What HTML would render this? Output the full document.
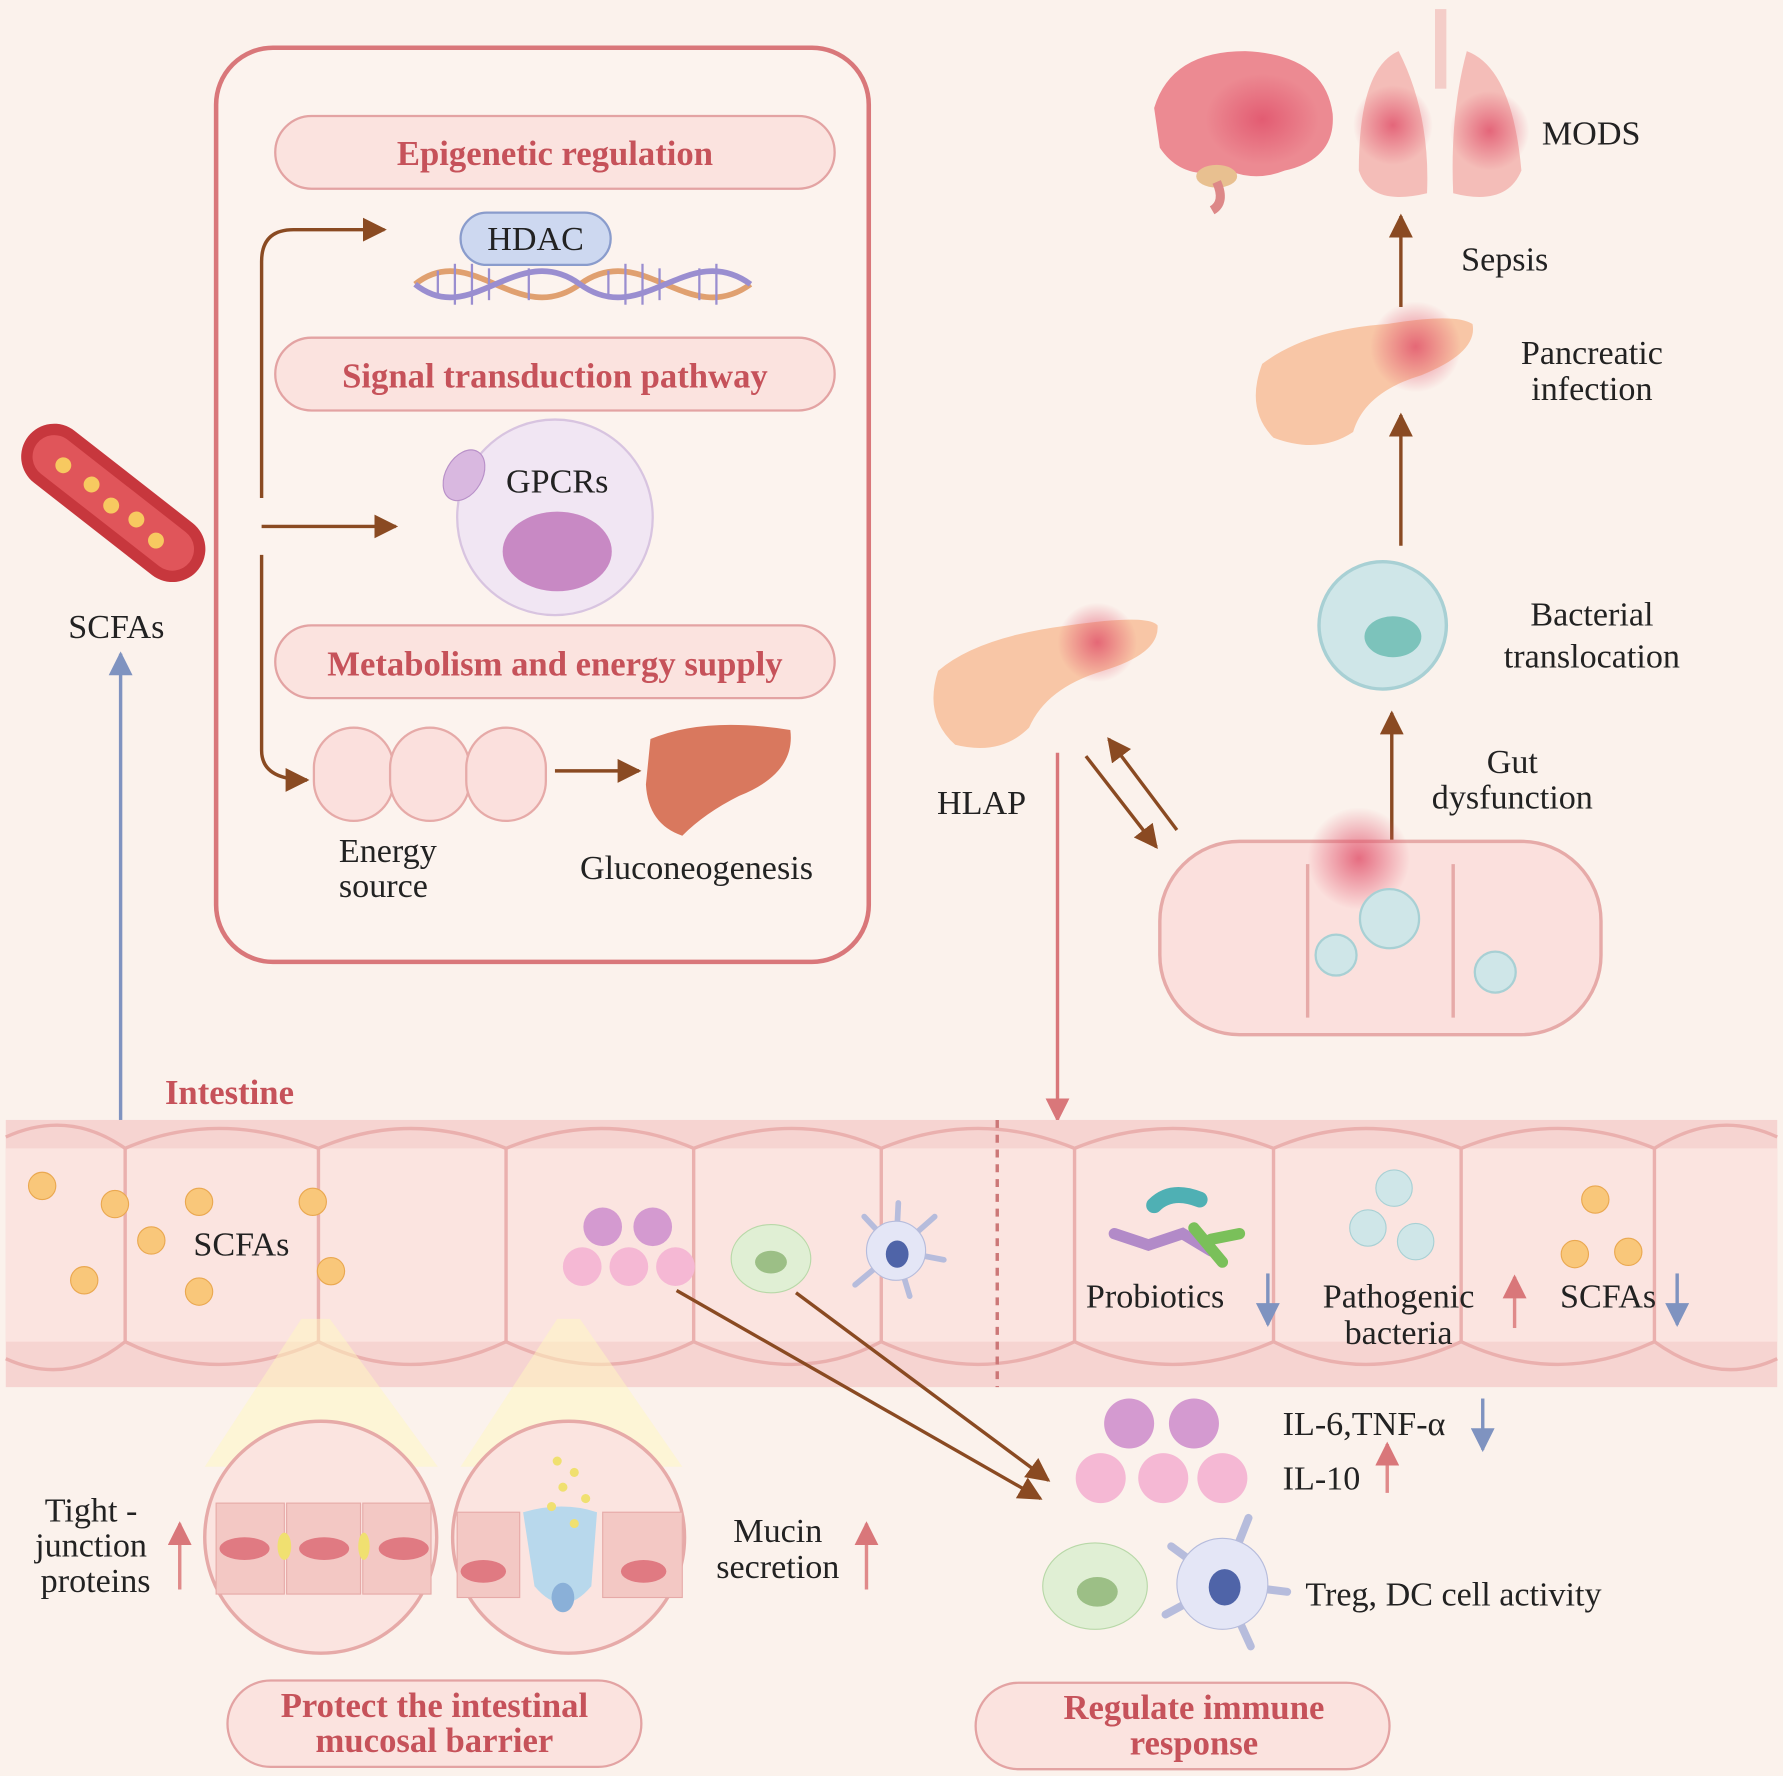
<!DOCTYPE html>
<html><head><meta charset="utf-8"><style>
html,body{margin:0;padding:0;background:#fbf2ec;}
svg{display:block}
text{font-family:"Liberation Serif",serif;}
.t{font-size:30px;fill:#222;}
.p{font-size:30.5px;fill:#c6525a;font-weight:bold;}
</style></head><body>
<svg width="1783" height="1776" viewBox="0 0 1568 1562" xmlns="http://www.w3.org/2000/svg">
<defs>
<marker id="ab" viewBox="0 0 10 10" refX="9" refY="5" markerWidth="7" markerHeight="7" orient="auto"><path d="M0,0L10,5L0,10z" fill="#8a4a22"/></marker>
<marker id="ap" viewBox="0 0 10 10" refX="9" refY="5" markerWidth="7" markerHeight="7" orient="auto"><path d="M0,0L10,5L0,10z" fill="#d9777a"/></marker>
<marker id="abl" viewBox="0 0 10 10" refX="9" refY="5" markerWidth="7" markerHeight="7" orient="auto"><path d="M0,0L10,5L0,10z" fill="#7f93c0"/></marker>
<radialGradient id="red"><stop offset="0" stop-color="#e0506a" stop-opacity=".8"/><stop offset="1" stop-color="#e0506a" stop-opacity="0"/></radialGradient>
</defs>
<rect width="1568" height="1562" fill="#fbf2ec"/>
<rect x="190" y="42" width="574" height="804" rx="50" fill="#fcf3ee" stroke="#d9777a" stroke-width="4"/>
<g>
<rect x="242" y="102" width="492" height="64" rx="32" fill="#fbe3df" stroke="#e3a3a3" stroke-width="2"/>
<text x="488" y="145" text-anchor="middle" class="p">Epigenetic regulation</text>
<rect x="242" y="297" width="492" height="64" rx="32" fill="#fbe3df" stroke="#e3a3a3" stroke-width="2"/>
<text x="488" y="341" text-anchor="middle" class="p">Signal transduction pathway</text>
<rect x="242" y="550" width="492" height="64" rx="32" fill="#fbe3df" stroke="#e3a3a3" stroke-width="2"/>
<text x="488" y="594" text-anchor="middle" class="p">Metabolism and energy supply</text>
</g>
<g fill="none" stroke-width="5">
<path d="M365,250 C415,210 455,290 510,250 C565,210 605,290 660,250" stroke="#e0a070"/>
<path d="M365,250 C415,290 455,210 510,250 C565,290 605,210 660,250" stroke="#9a8ed0"/>
</g>
<g stroke="#9a8ed0" stroke-width="2">
<line x1="385" y1="238" x2="385" y2="262"/><line x1="400" y1="232" x2="400" y2="268"/><line x1="415" y1="232" x2="415" y2="268"/><line x1="430" y1="236" x2="430" y2="264"/>
<line x1="535" y1="238" x2="535" y2="262"/><line x1="550" y1="232" x2="550" y2="268"/><line x1="565" y1="232" x2="565" y2="268"/><line x1="580" y1="236" x2="580" y2="264"/>
<line x1="465" y1="236" x2="465" y2="264"/><line x1="615" y1="236" x2="615" y2="264"/><line x1="630" y1="232" x2="630" y2="268"/>
</g>
<rect x="405" y="187" width="132" height="46" rx="23" fill="#cdd8f0" stroke="#8a9ccc" stroke-width="2"/>
<text x="471" y="220" text-anchor="middle" class="t">HDAC</text>
<circle cx="488" cy="455" r="86" fill="#f1e6f3" stroke="#d8c4e0" stroke-width="2"/>
<ellipse cx="490" cy="485" rx="48" ry="35" fill="#c889c4"/>
<ellipse cx="408" cy="418" rx="16" ry="24" transform="rotate(30 408 418)" fill="#d9b8e0" stroke="#b890c8"/>
<text x="490" y="433" text-anchor="middle" class="t">GPCRs</text>
<g fill="none" stroke="#8a4a22" stroke-width="3">
<path d="M230,438 V230 Q230,202 258,202 H338" marker-end="url(#ab)"/>
<path d="M230,463 H348" marker-end="url(#ab)"/>
<path d="M230,488 V660 Q230,686 270,686" marker-end="url(#ab)"/>
<path d="M488,678 H562" marker-end="url(#ab)"/>
</g>
<g fill="#fbe0dd" stroke="#e6aaa8" stroke-width="2">
<rect x="276" y="640" width="70" height="82" rx="35"/>
<rect x="343" y="640" width="70" height="82" rx="35"/>
<rect x="410" y="640" width="70" height="82" rx="35"/>
</g>
<text x="298" y="758" class="t">Energy</text><text x="298" y="789" class="t">source</text>
<path d="M572,650 Q620,630 695,642 Q700,680 650,700 Q620,715 600,735 Q570,725 568,690z" fill="#d9785e"/>
<text x="510" y="773" class="t">Gluconeogenesis</text>
<g transform="rotate(38 95 440)">
<rect x="5" y="410" width="190" height="58" rx="29" fill="#c7373d"/>
<rect x="15" y="420" width="170" height="38" rx="19" fill="#e0555a"/>
<circle cx="45" cy="440" r="7" fill="#f7c960"/><circle cx="75" cy="438" r="7" fill="#f7c960"/><circle cx="100" cy="442" r="7" fill="#f7c960"/><circle cx="125" cy="438" r="7" fill="#f7c960"/><circle cx="150" cy="442" r="7" fill="#f7c960"/>
</g>
<text x="60" y="561" class="t">SCFAs</text>
<line x1="106" y1="1055" x2="106" y2="575" stroke="#7f93c0" stroke-width="3" marker-end="url(#abl)"/>
<path d="M1015,95 Q1030,45 1095,45 Q1165,48 1172,100 Q1175,140 1130,150 Q1105,160 1080,150 Q1040,160 1020,130z" fill="#ec8a92"/>
<ellipse cx="1110" cy="105" rx="50" ry="40" fill="url(#red)"/>
<ellipse cx="1070" cy="155" rx="18" ry="10" fill="#e8c090"/>
<path d="M1070,160 Q1078,178 1066,185" stroke="#d88" stroke-width="8" fill="none"/>
<path d="M1230,45 Q1195,60 1195,150 Q1205,182 1255,170 Q1258,100 1230,45z" fill="#f4bdb8"/>
<path d="M1290,45 Q1330,60 1338,150 Q1325,182 1278,170 Q1275,100 1290,45z" fill="#f4bdb8"/>
<rect x="1262" y="8" width="10" height="70" fill="#f4cdc8"/>
<circle cx="1225" cy="110" r="35" fill="url(#red)"/><circle cx="1310" cy="115" r="35" fill="url(#red)"/>
<text x="1356" y="127" class="t">MODS</text>
<line x1="1232" y1="270" x2="1232" y2="190" stroke="#8a4a22" stroke-width="3" marker-end="url(#ab)"/>
<text x="1285" y="238" class="t">Sepsis</text>
<path d="M1110,320 Q1150,290 1220,285 Q1280,275 1295,285 Q1300,310 1250,330 Q1200,345 1190,380 Q1160,400 1120,385 Q1095,360 1110,320z" fill="#f8c6a6"/>
<circle cx="1245" cy="305" r="40" fill="url(#red)"/>
<text x="1400" y="320" text-anchor="middle" class="t">Pancreatic</text><text x="1400" y="352" text-anchor="middle" class="t">infection</text>
<line x1="1232" y1="480" x2="1232" y2="365" stroke="#8a4a22" stroke-width="3" marker-end="url(#ab)"/>
<circle cx="1216" cy="550" r="56" fill="#cfe6e8" stroke="#a8d0d4" stroke-width="3"/>
<ellipse cx="1225" cy="560" rx="25" ry="18" fill="#7cc3bb"/>
<text x="1400" y="550" text-anchor="middle" class="t">Bacterial</text><text x="1400" y="587" text-anchor="middle" class="t">translocation</text>
<line x1="1224" y1="785" x2="1224" y2="627" stroke="#8a4a22" stroke-width="3" marker-end="url(#ab)"/>
<text x="1330" y="680" text-anchor="middle" class="t">Gut</text><text x="1330" y="711" text-anchor="middle" class="t">dysfunction</text>
<g fill="#fbe0dd" stroke="#e6aaa8" stroke-width="3">
<rect x="1020" y="740" width="388" height="170" rx="70"/>
<line x1="1150" y1="760" x2="1150" y2="895"/><line x1="1278" y1="760" x2="1278" y2="895"/>
</g>
<circle cx="1195" cy="755" r="45" fill="url(#red)"/>
<circle cx="1222" cy="808" r="26" fill="#cfe6e8" stroke="#a8d0d4" stroke-width="2"/>
<circle cx="1175" cy="840" r="18" fill="#cfe6e8" stroke="#a8d0d4" stroke-width="2"/>
<circle cx="1315" cy="855" r="18" fill="#cfe6e8" stroke="#a8d0d4" stroke-width="2"/>
<path d="M825,590 Q860,560 940,550 Q1010,540 1018,550 Q1020,575 970,590 Q920,605 905,640 Q880,665 840,655 Q812,630 825,590z" fill="#f8c6a6"/>
<circle cx="965" cy="565" r="35" fill="url(#red)"/>
<text x="824" y="716" class="t">HLAP</text>
<line x1="955" y1="665" x2="1017" y2="745" stroke="#8a4a22" stroke-width="3" marker-end="url(#ab)"/>
<line x1="1035" y1="730" x2="975" y2="650" stroke="#8a4a22" stroke-width="3" marker-end="url(#ab)"/>
<line x1="930" y1="662" x2="930" y2="985" stroke="#d9777a" stroke-width="3" marker-end="url(#ap)"/>
<text x="145" y="971" class="p">Intestine</text>
<rect x="5" y="985" width="1558" height="235" fill="#f6d4d1"/>
<rect x="5" y="1010" width="1558" height="170" fill="#fbe4e0"/>
<g stroke="#eab0ae" stroke-width="3" fill="none">
<path d="M5,1000 Q60,975 110,1010 Q190,975 280,1010 Q360,975 445,1010 Q530,975 610,1010 Q700,975 775,1010 Q860,975 945,1010 Q1030,975 1120,1010 Q1200,975 1285,1010 Q1370,975 1455,1010 Q1510,975 1563,1000"/>
<path d="M5,1195 Q60,1220 110,1180 Q190,1220 280,1180 Q360,1220 445,1180 Q530,1220 610,1180 Q700,1220 775,1180 Q860,1220 945,1180 Q1030,1220 1120,1180 Q1200,1220 1285,1180 Q1370,1220 1455,1180 Q1510,1220 1563,1195"/>
<line x1="110" y1="1010" x2="110" y2="1180"/><line x1="280" y1="1010" x2="280" y2="1180"/><line x1="445" y1="1010" x2="445" y2="1180"/><line x1="610" y1="1010" x2="610" y2="1180"/><line x1="775" y1="1010" x2="775" y2="1180"/><line x1="945" y1="1010" x2="945" y2="1180"/><line x1="1120" y1="1010" x2="1120" y2="1180"/><line x1="1285" y1="1010" x2="1285" y2="1180"/><line x1="1455" y1="1010" x2="1455" y2="1180"/>
</g>
<line x1="877" y1="985" x2="877" y2="1220" stroke="#c77" stroke-width="3" stroke-dasharray="7,6"/>
<g fill="#f9c77a" stroke="#eaa850">
<circle cx="37" cy="1043" r="12"/><circle cx="101" cy="1059" r="12"/><circle cx="133" cy="1091" r="12"/><circle cx="74" cy="1126" r="12"/><circle cx="175" cy="1057" r="12"/><circle cx="175" cy="1136" r="12"/><circle cx="275" cy="1057" r="12"/><circle cx="291" cy="1118" r="12"/>
<circle cx="1403" cy="1055" r="12"/><circle cx="1385" cy="1103" r="12"/><circle cx="1432" cy="1101" r="12"/>
</g>
<text x="170" y="1104" class="t">SCFAs</text>
<g><circle cx="530" cy="1079" r="17" fill="#d49ad0"/><circle cx="574" cy="1079" r="17" fill="#d49ad0"/><circle cx="512" cy="1114" r="17" fill="#f5b8d4"/><circle cx="553" cy="1114" r="17" fill="#f5b8d4"/><circle cx="594" cy="1114" r="17" fill="#f5b8d4"/></g>
<ellipse cx="678" cy="1107" rx="35" ry="30" fill="#e0efd4" stroke="#b8d8a8"/><ellipse cx="678" cy="1110" rx="14" ry="10" fill="#9cbf86"/>
<g stroke="#b6bcdc" stroke-width="5" stroke-linecap="round"><line x1="788" y1="1100" x2="760" y2="1070"/><line x1="788" y1="1100" x2="822" y2="1070"/><line x1="788" y1="1100" x2="830" y2="1108"/><line x1="788" y1="1100" x2="800" y2="1140"/><line x1="788" y1="1100" x2="752" y2="1130"/><line x1="788" y1="1100" x2="790" y2="1058"/></g>
<circle cx="788" cy="1100" r="26" fill="#e4e6f6" stroke="#b6bcdc"/><ellipse cx="789" cy="1103" rx="10" ry="12" fill="#4f64a8"/>
<path d="M980,1085 L1010,1095 L1040,1085 L1065,1100" stroke="#b28ac8" stroke-width="10" fill="none" stroke-linecap="round"/>
<path d="M1015,1060 Q1030,1045 1055,1055" stroke="#4fb0b4" stroke-width="14" fill="none" stroke-linecap="round"/>
<path d="M1050,1080 L1075,1110 M1065,1090 L1090,1085" stroke="#7ac05a" stroke-width="10" fill="none" stroke-linecap="round"/>
<text x="955" y="1150" class="t">Probiotics</text>
<line x1="1115" y1="1120" x2="1115" y2="1165" stroke="#7f93c0" stroke-width="3" marker-end="url(#abl)"/>
<circle cx="1226" cy="1045" r="16" fill="#cfe6e8" stroke="#a8d0d4"/><circle cx="1203" cy="1080" r="16" fill="#cfe6e8" stroke="#a8d0d4"/><circle cx="1245" cy="1092" r="16" fill="#cfe6e8" stroke="#a8d0d4"/>
<text x="1230" y="1150" text-anchor="middle" class="t">Pathogenic</text><text x="1230" y="1182" text-anchor="middle" class="t">bacteria</text>
<line x1="1332" y1="1168" x2="1332" y2="1123" stroke="#e08a8a" stroke-width="3" marker-end="url(#ap)"/>
<text x="1372" y="1150" class="t">SCFAs</text>
<line x1="1475" y1="1120" x2="1475" y2="1165" stroke="#7f93c0" stroke-width="3" marker-end="url(#abl)"/>
<line x1="595" y1="1135" x2="915" y2="1318" stroke="#8a4a22" stroke-width="3" marker-end="url(#ab)"/>
<line x1="700" y1="1137" x2="922" y2="1302" stroke="#8a4a22" stroke-width="3" marker-end="url(#ab)"/>
<path d="M265,1160 L180,1290 L385,1290 L290,1160z" fill="#fff7c0" opacity=".5"/>
<path d="M490,1160 L405,1290 L600,1290 L510,1160z" fill="#fff7c0" opacity=".5"/>
<circle cx="282" cy="1352" r="102" fill="#fbe4e0" stroke="#e6aaa8" stroke-width="3"/>
<circle cx="500" cy="1352" r="102" fill="#fbe4e0" stroke="#e6aaa8" stroke-width="3"/>
<g fill="#f3c8c4" stroke="#e6aaa8">
<rect x="190" y="1322" width="60" height="80"/><rect x="252" y="1322" width="65" height="80"/><rect x="319" y="1322" width="60" height="80"/>
<rect x="402" y="1330" width="55" height="75"/><rect x="530" y="1330" width="70" height="75"/>
</g>
<g fill="#e07a82"><ellipse cx="215" cy="1362" rx="22" ry="10"/><ellipse cx="285" cy="1362" rx="22" ry="10"/><ellipse cx="355" cy="1362" rx="22" ry="10"/><ellipse cx="425" cy="1382" rx="20" ry="10"/><ellipse cx="566" cy="1382" rx="20" ry="10"/></g>
<ellipse cx="250" cy="1360" rx="6" ry="12" fill="#f0e070"/><ellipse cx="320" cy="1360" rx="5" ry="12" fill="#f0e070"/>
<path d="M460,1330 Q495,1320 525,1330 L520,1395 Q495,1425 470,1395z" fill="#b8d8ec"/>
<ellipse cx="495" cy="1405" rx="10" ry="13" fill="#8ab0d8"/>
<g fill="#f0e070"><circle cx="490" cy="1285" r="4"/><circle cx="505" cy="1295" r="4"/><circle cx="495" cy="1308" r="4"/><circle cx="515" cy="1318" r="4"/><circle cx="485" cy="1325" r="4"/><circle cx="505" cy="1340" r="4"/></g>
<text x="80" y="1338" text-anchor="middle" class="t">Tight -</text><text x="80" y="1369" text-anchor="middle" class="t">junction</text><text x="84" y="1400" text-anchor="middle" class="t">proteins</text>
<line x1="158" y1="1398" x2="158" y2="1340" stroke="#e08a8a" stroke-width="3" marker-end="url(#ap)"/>
<text x="684" y="1356" text-anchor="middle" class="t">Mucin</text><text x="684" y="1388" text-anchor="middle" class="t">secretion</text>
<line x1="762" y1="1398" x2="762" y2="1340" stroke="#e08a8a" stroke-width="3" marker-end="url(#ap)"/>
<g><circle cx="993" cy="1252" r="22" fill="#d49ad0"/><circle cx="1050" cy="1252" r="22" fill="#d49ad0"/><circle cx="968" cy="1300" r="22" fill="#f5b8d4"/><circle cx="1023" cy="1300" r="22" fill="#f5b8d4"/><circle cx="1075" cy="1300" r="22" fill="#f5b8d4"/></g>
<text x="1128" y="1262" class="t">IL-6,TNF-α</text>
<line x1="1304" y1="1230" x2="1304" y2="1275" stroke="#7f93c0" stroke-width="3" marker-end="url(#abl)"/>
<text x="1128" y="1310" class="t">IL-10</text>
<line x1="1220" y1="1313" x2="1220" y2="1270" stroke="#e08a8a" stroke-width="3" marker-end="url(#ap)"/>
<ellipse cx="963" cy="1395" rx="46" ry="38" fill="#e0efd4" stroke="#b8d8a8"/><ellipse cx="965" cy="1400" rx="18" ry="13" fill="#9cbf86"/>
<g stroke="#b6bcdc" stroke-width="7" stroke-linecap="round"><line x1="1075" y1="1393" x2="1030" y2="1360"/><line x1="1075" y1="1393" x2="1098" y2="1335"/><line x1="1075" y1="1393" x2="1132" y2="1400"/><line x1="1075" y1="1393" x2="1100" y2="1448"/><line x1="1075" y1="1393" x2="1025" y2="1420"/></g>
<circle cx="1075" cy="1393" r="40" fill="#e4e6f6" stroke="#b6bcdc"/><ellipse cx="1077" cy="1396" rx="14" ry="16" fill="#4f64a8"/>
<text x="1148" y="1412" class="t">Treg, DC cell activity</text>
<rect x="200" y="1478" width="364" height="76" rx="38" fill="#fbe3df" stroke="#e3a3a3" stroke-width="2"/>
<text x="382" y="1510" text-anchor="middle" class="p">Protect the intestinal</text><text x="382" y="1541" text-anchor="middle" class="p">mucosal barrier</text>
<rect x="858" y="1480" width="364" height="76" rx="38" fill="#fbe3df" stroke="#e3a3a3" stroke-width="2"/>
<text x="1050" y="1512" text-anchor="middle" class="p">Regulate immune</text><text x="1050" y="1543" text-anchor="middle" class="p">response</text>
</svg>
</body></html>
